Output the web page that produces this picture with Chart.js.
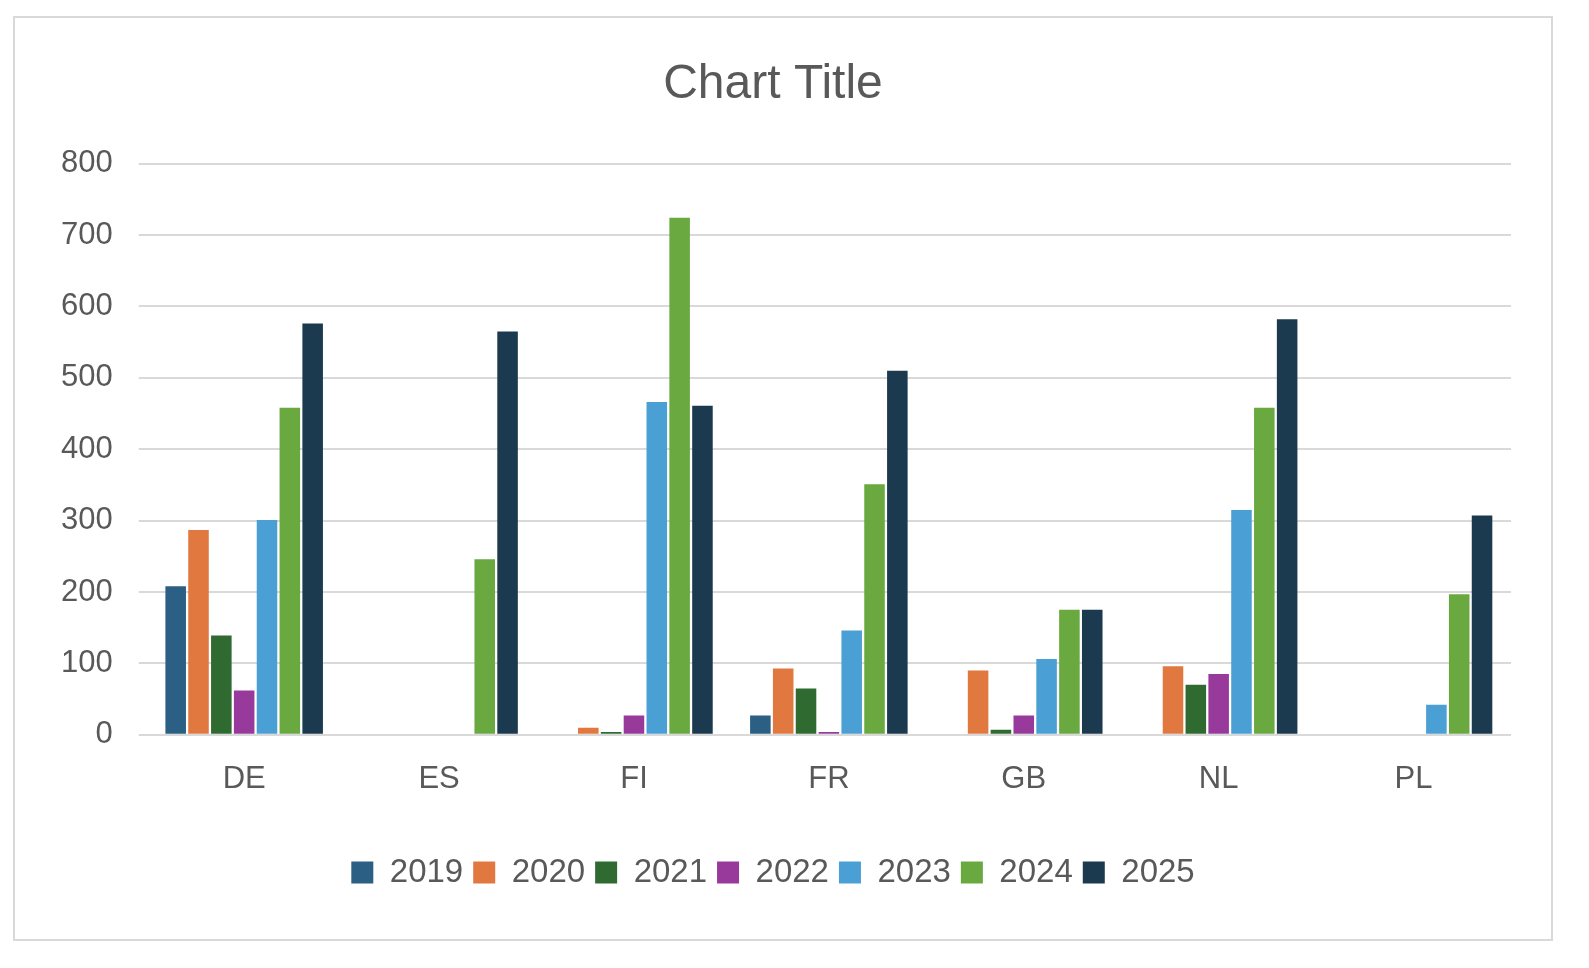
<!DOCTYPE html>
<html>
<head>
<meta charset="utf-8">
<script src="https://cdn.jsdelivr.net/npm/chart.js@4/dist/chart.umd.min.js"></script>
<style>
  html, body { margin: 0; padding: 0; background: #fff; }
  #frame {
    position: absolute; left: 13px; top: 16px; width: 1536px; height: 921px;
    border: 2px solid #d9d9d9; background: #fff;
  }
  #wrap { position: absolute; left: 10px; top: 30px; right: 40px; bottom: 40px; }
</style>
</head>
<body>
<div id="frame"><div id="wrap"><canvas id="chart"></canvas></div></div>
<script>
const categories = ['DE', 'ES', 'FI', 'FR', 'GB', 'NL', 'PL'];
const years = ['2019', '2020', '2021', '2022', '2023', '2024', '2025'];
const v2019 = [208, null, null, 27, null, null, null];
const v2020 = [287, null, 10, 93, 90, 96, null];
const v2021 = [139, null, 4, 65, 7, 70, null];
const v2022 = [62, null, 27, 4, 27, 85, null];
const v2023 = [301, null, 466, 146, 106, 315, 42];
const v2024 = [458, 246, 724, 351, 175, 458, 197];
const v2025 = [576, 565, 461, 510, 175, 582, 307];
const colors = ['#2b5f83', '#e07840', '#2f6b30', '#983a9c', '#4a9fd5', '#69a940', '#1b3a4f'];

const series = [v2019, v2020, v2021, v2022, v2023, v2024, v2025];
const font = 'Liberation Sans, Arial, sans-serif';

new Chart(document.getElementById('chart'), {
    type: 'bar',
    data: {
        labels: categories,
        datasets: series.map((d, i) => ({
            label: years[i],
            data: d,
            backgroundColor: colors[i],
            barPercentage: 0.9,
            categoryPercentage: 0.82
        }))
    },
    options: {
        responsive: true,
        maintainAspectRatio: false,
        animation: false,
        layout: { padding: { left: 10, right: 0 } },
        plugins: {
            title: {
                display: true, text: 'Chart Title', color: '#595959',
                font: { family: font, size: 48, weight: 'normal' }, padding: { top: 8, bottom: 50 }
            },
            legend: {
                position: 'bottom',
                labels: {
                    color: '#595959', font: { family: font, size: 33 },
                    boxWidth: 22, boxHeight: 22, padding: 10
                }
            },
            tooltip: { enabled: false }
        },
        scales: {
            x: {
                grid: { display: false },
                border: { color: '#d9d9d9', width: 2 },
                ticks: { color: '#595959', font: { family: font, size: 31 }, padding: 18 },
                afterFit: s => { s.height += 30; }
            },
            y: {
                min: 0, max: 800,
                ticks: { stepSize: 100, color: '#595959', font: { family: font, size: 31 }, padding: 26 },
                grid: { color: '#d9d9d9', lineWidth: 2 },
                border: { display: false }
            }
        }
    }
});
</script>
</body>
</html>
